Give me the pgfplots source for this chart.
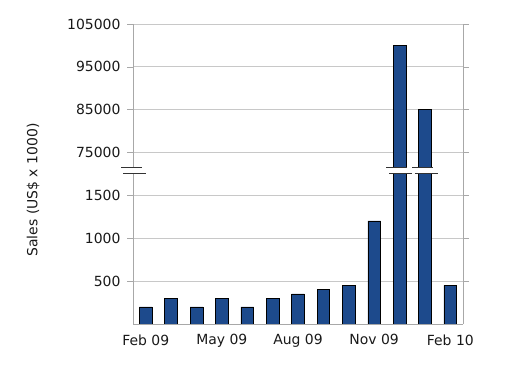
\documentclass[border=0pt]{standalone}
\usepackage{pgfplots}
\pgfplotsset{compat=1.18}
\usepackage{fontspec}
\setmainfont{DejaVu Sans}
\definecolor{barblue}{HTML}{1D4A8C}
\definecolor{gridgray}{HTML}{C8C8C8}
\definecolor{axgray}{HTML}{A8A8A8}
\pgfplotstableread{
x y
0 200
1 300
2 200
3 300
4 200
5 300
6 350
7 400
8 450
9 1200
10 100000
11 85000
12 450
}\sales
\begin{document}
\begin{tikzpicture}[x=1bp,y=1bp]
\useasboundingbox (0,0) rectangle (525,377);
\pgfplotsset{
  common/.style={
    scale only axis, anchor=south west, width=330bp,
    xmin=-0.5, xmax=12.5,
    axis line style={draw=none},
    ymajorgrids, grid style={gridgray, line width=0.8pt},
    tick style={axgray, line width=0.7pt},
    tick align=outside,
    major tick length=6bp,
    minor tick length=4bp,
    scaled y ticks=false,
    ticklabel style={font=\fontsize{14}{16}\selectfont, text=black!90},
    yticklabel style={xshift=-3bp},
  },
  barsty/.style={ybar, bar width=12.7bp, fill=barblue, draw=black, line width=0.6pt},
}
% lower axis
\begin{axis}[common, at={(133bp,53bp)}, height=151bp,
  ymin=0, ymax=1756,
  ytick={500,1000,1500},
  yticklabels={500,1000,1500},
  xtick={0,3,6,9,12},
  xticklabels={Feb 09, May 09, Aug 09, Nov 09, Feb 10},
  minor xtick={-0.5,0.5,...,12.5},
  xtick style={draw=none},
  minor tick style={axgray, line width=0.7pt},
  xticklabel style={yshift=-1bp},
]
\addplot[barsty] table[x=x,y=y] {\sales};
\end{axis}
% upper axis
\begin{axis}[common, at={(133bp,210bp)}, height=143bp,
  ymin=71660, ymax=105000,
  ytick={75000,85000,95000,105000},
  yticklabels={75000,85000,95000,105000},
  xtick=\empty,
]
\addplot[barsty, restrict y to domain=70000:110000] table[x=x,y=y] {\sales};
\end{axis}
% frame lines
\draw[axgray, line width=0.8pt] (133,53) -- (463,53);
\draw[axgray, line width=0.8pt] (133,53) -- (133,204);
\draw[axgray, line width=0.8pt] (133,210) -- (133,353);
\draw[axgray, line width=0.8pt] (463,53) -- (463,353);
% break marks
\draw[black!80, line width=0.8pt] (121,210) -- (142,210);
\draw[black!80, line width=0.8pt] (123,204) -- (146,204);
\draw[black!80, line width=0.8pt] (386,210) -- (407,210);
\draw[black!80, line width=0.8pt] (389,204) -- (412,204);
\draw[black!80, line width=0.8pt] (412,210) -- (433,210);
\draw[black!80, line width=0.8pt] (415,204) -- (438,204);
% y label
\node[rotate=90, font=\fontsize{14}{16}\selectfont, text=black!90] at (33,187) {Sales (US\$ x 1000)};
\end{tikzpicture}
\end{document}
